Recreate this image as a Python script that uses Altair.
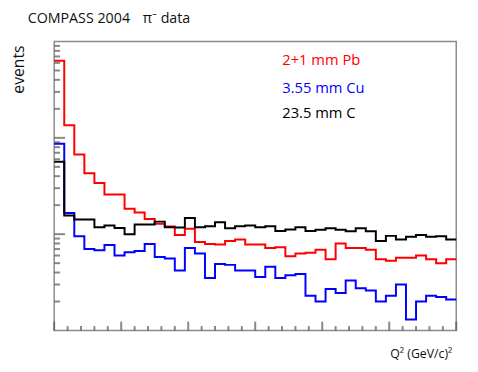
import altair as alt
import pandas as pd

# bin width 0.00075 (GeV/c)^2, 40 bins from 0 to 0.03
bin_width = 0.00075
n_bins = 40
x_max = 0.03

series_names = ["2+1 mm Pb", "3.55 mm  Cu", "23.5 mm C"]
series_colors = ["#ff0000", "#0000ff", "#000000"]

pb_counts = [6300, 1350, 670, 430, 340, 258, 258, 184, 168, 144,
             128, 120, 98, 114, 83, 79, 78, 85, 88, 78,
             78, 72, 73, 59, 63, 64, 69, 55, 80, 72,
             72, 69, 55, 53, 57, 57, 60, 55, 50, 55]
cu_counts = [870, 166, 95, 70, 68, 77, 60, 65, 67, 79,
             58, 56, 42, 72, 63, 35, 49, 48, 42, 42,
             36, 46, 35, 37.5, 38.5, 23, 20, 27, 24.5, 33,
             27.5, 26, 20, 23, 30, 13, 20, 23, 22.3, 21]
c_counts = [565, 156, 142, 142, 118, 123, 116, 100, 126, 126,
            135, 118, 117, 147, 118, 121, 133, 115, 121, 123,
            118, 121, 108, 112, 118, 108, 111, 115, 111, 107,
            115, 107, 85, 96, 88, 94, 98, 94, 95, 88]

x_major = [0, 0.005, 0.01, 0.015, 0.02, 0.025, 0.03]
x_minor = [round(i * 0.001, 3) for i in range(31) if i % 5 != 0]
y_major = [100, 1000]
y_labels = [100, 1000, 10000]
y_minor = [m * 10 ** e for e in (1, 2, 3) for m in range(2, 10)]

rows = []
for name, counts in zip(series_names, [pb_counts, cu_counts, c_counts]):
    for i, v in enumerate(counts):
        rows.append({"series": name, "x": round(i * bin_width, 6), "v": v})
    rows.append({"series": name, "x": x_max, "v": counts[-1]})
df = pd.DataFrame(rows)

W, H = 409, 294
FONT = "Open Sans"
GREY = "#8c8c8c"
TICK = "#555555"

xscale = alt.Scale(domain=[0, x_max], nice=False, zero=False)
yscale = alt.Scale(type="log", domain=[10, 10000], nice=False)
cscale = alt.Scale(domain=series_names, range=series_colors)


def xticks(values, size):
    return alt.Chart(pd.DataFrame({"tx": values})).mark_tick(
        color=TICK, thickness=2, size=size
    ).encode(x=alt.X("tx:Q", scale=xscale, axis=None), y=alt.value(H - size / 2))


def yticks(values, size):
    return alt.Chart(pd.DataFrame({"ty": values})).mark_tick(
        color=TICK, thickness=2, size=size, orient="horizontal"
    ).encode(y=alt.Y("ty:Q", scale=yscale, axis=None), x=alt.value(size / 2))


def label(text, x, y, color="#111", size=13, align="left", angle=0, baseline="middle"):
    return alt.Chart(pd.DataFrame({"t": [text]})).mark_text(
        align=align, baseline=baseline, font=FONT, fontSize=size, color=color, angle=angle
    ).encode(text="t:N", x=alt.value(x), y=alt.value(y))


lines = alt.Chart(df).mark_line(interpolate="step-after", strokeWidth=2).encode(
    x=alt.X("x:Q", scale=xscale,
            axis=alt.Axis(values=x_major, ticks=False, grid=False, title=None,
                          labelFontSize=13.5, labelFont=FONT, labelPadding=2,
                          labelColor="#111", domainColor=GREY, domainWidth=1.5,
                          labelFlush=False, labelOverlap=False,
                          labelExpr="format(datum.value, '.3~f')")),
    y=alt.Y("v:Q", scale=yscale,
            axis=alt.Axis(values=y_labels, ticks=False, grid=False, title=None,
                          labelFontSize=14, labelFont=FONT, labelPadding=3,
                          labelColor="#111", domainColor=GREY, domainWidth=1.5,
                          labelFlush=False, labelOverlap=False,
                          labelExpr="datum.value == 100 ? '10²' : datum.value == 1000 ? '10³' : '10⁴'")),
    color=alt.Color("series:N", scale=cscale, legend=None),
)

annotations = [
    label("COMPASS 2004", -27, -23, size=14.5),
    label("π⁻ data", 90, -23, size=14.5),
    label(series_names[0], 232, 19, color=series_colors[0], size=15),
    label(series_names[1], 232, 47, color=series_colors[1], size=15),
    label(series_names[2], 232, 73, color=series_colors[2], size=15),
    label("events", -36, 4, size=16, align="right", angle=270),
    label("Q² (GeV/c)²", 405, 325, size=12.5, align="right", baseline="bottom"),
]

chart = alt.layer(
    lines,
    xticks(x_major, 9), xticks(x_minor, 4.5),
    yticks(y_major, 11), yticks(y_minor, 6),
    *annotations,
).properties(
    width=W, height=H,
    background="white",
    autosize=alt.AutoSizeParams(type="none"),
    padding={"left": 47, "top": 31, "right": 14, "bottom": 31},
).configure_view(stroke=GREY, strokeWidth=1.5)

chart.save("out.html", embed_options={"renderer": "svg", "actions": False})
